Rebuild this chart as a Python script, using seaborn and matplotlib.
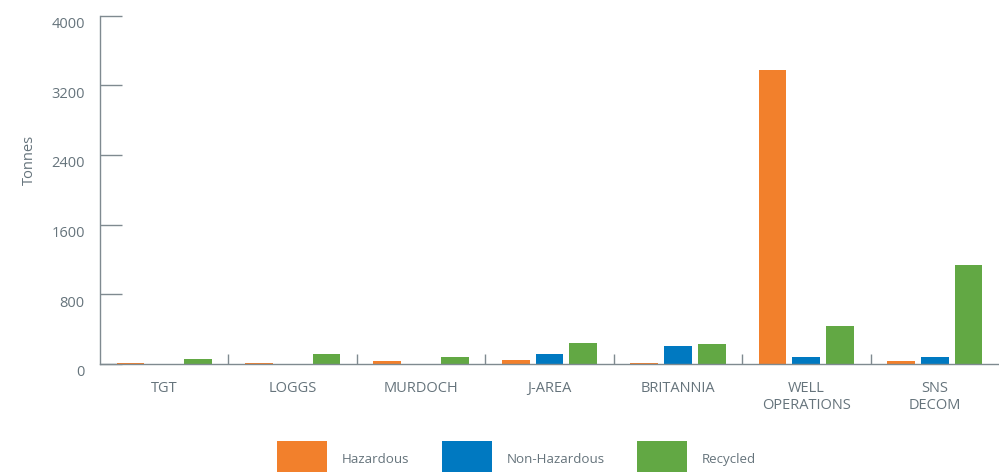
import matplotlib
matplotlib.use("Agg")
import matplotlib.pyplot as plt
import matplotlib.transforms as mtransforms
from matplotlib.ticker import FixedLocator
import seaborn as sns
import pandas as pd

sites = ["TGT", "LOGGS", "MURDOCH", "J-AREA", "BRITANNIA", "WELL\nOPERATIONS", "SNS\nDECOM"]
hazardous = [10, 15, 35, 45, 10, 3380, 38]
non_hazardous = [5, 5, 3, 115, 210, 75, 75]
recycled = [60, 120, 80, 240, 235, 440, 1140]
series_names = ["Hazardous", "Non-Hazardous", "Recycled"]
colors = ["#F2802C", "#0079C1", "#62A844"]
yticks = [0, 800, 1600, 2400, 3200, 4000]

rows = []
for name, vals in zip(series_names, [hazardous, non_hazardous, recycled]):
    for s, v in zip(sites, vals):
        rows.append({"Site": s, "Tonnes": v, "Type": name})
df = pd.DataFrame(rows)

sns.set_style("white")
plt.rcParams["font.family"] = ["Open Sans", "DejaVu Sans"]
text_color = "#66747C"
axis_color = "#7F8A90"
fs = 10.5

fig = plt.figure(figsize=(9.99, 4.72), dpi=100)
ax = fig.add_axes([100 / 999, (472 - 364) / 472, 899 / 999, 348.3 / 472])

sns.barplot(data=df, x="Site", y="Tonnes", hue="Type", order=sites,
            hue_order=series_names, palette=colors, saturation=1,
            width=0.79, gap=0.18, linewidth=0, errorbar=None, ax=ax)

ax.set_xlim(-0.5, len(sites) - 0.5)
ax.set_ylim(0, 4000)
ax.set_yticks(yticks)
ax.set_yticklabels([str(t) for t in yticks])

for side in ["top", "right"]:
    ax.spines[side].set_visible(False)
for side in ["left", "bottom"]:
    ax.spines[side].set_color(axis_color)
    ax.spines[side].set_linewidth(1.0)

ax.tick_params(axis="y", left=True, direction="in", length=16, width=1,
               color=axis_color, labelcolor=text_color, labelsize=fs, pad=11)
ax.tick_params(axis="x", which="major", bottom=True, length=0,
               labelcolor=text_color, labelsize=fs, pad=12)
ax.xaxis.set_minor_locator(FixedLocator([i + 0.5 for i in range(len(sites) - 1)]))
ax.tick_params(axis="x", which="minor", bottom=True, direction="in", length=7,
               width=1, color=axis_color)

offset = mtransforms.ScaledTranslation(0, -5 / 72, fig.dpi_scale_trans)
for lab in ax.get_yticklabels():
    lab.set_transform(lab.get_transform() + offset)
for lab in ax.get_xticklabels():
    lab.set_linespacing(1.25)

ax.set_xlabel("")
ax.set_ylabel("Tonnes", color=text_color, fontsize=fs)
ax.yaxis.set_label_coords(-0.07, 0.586)

handles, labels = ax.get_legend_handles_labels()
if ax.get_legend() is not None:
    ax.get_legend().remove()
lfs = 9.6
px = lfs * 100 / 72
fig.legend(handles, labels, ncol=3, frameon=False, loc="center left",
           bbox_to_anchor=(277 / 999, (472 - 459) / 472),
           fontsize=lfs, labelcolor=text_color, handlelength=50 / px,
           handleheight=3.7, handletextpad=15 / px, columnspacing=32 / px,
           borderpad=0, borderaxespad=0)

fig.savefig("out.png", dpi=100)
